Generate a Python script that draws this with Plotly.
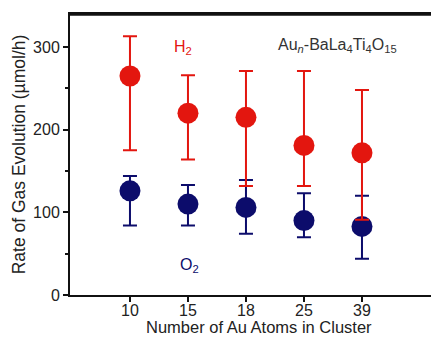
import plotly.graph_objects as go

categories = ["10", "15", "18", "25", "39"]
h2_values = [265, 220, 215, 181, 172]
h2_err_plus = [48, 46, 56, 90, 76]
h2_err_minus = [90, 56, 83, 49, 81]
o2_values = [126, 110, 106, 90, 83]
o2_err_plus = [18, 23, 33, 33, 37]
o2_err_minus = [42, 26, 32, 20, 39]
y_ticks = [0, 100, 200, 300]

x_pos = list(range(len(categories)))
RED = "#e3160f"
NAVY = "#0c0c6b"

fig = go.Figure()
fig.add_trace(go.Scatter(
    x=x_pos, y=o2_values, mode="markers",
    marker=dict(size=21, color=NAVY),
    error_y=dict(type="data", symmetric=False, array=o2_err_plus, arrayminus=o2_err_minus,
                 color=NAVY, thickness=2, width=7),
    showlegend=False))
fig.add_trace(go.Scatter(
    x=x_pos, y=h2_values, mode="markers",
    marker=dict(size=21, color=RED),
    error_y=dict(type="data", symmetric=False, array=h2_err_plus, arrayminus=h2_err_minus,
                 color=RED, thickness=2, width=7),
    showlegend=False))

font = "Liberation Sans, Arial, sans-serif"
fig.add_annotation(x=0.92, y=300, xref="x", yref="y", text="H<sub>2</sub>", showarrow=False,
                   font=dict(family=font, size=16, color=RED))
fig.add_annotation(x=1.02, y=36, xref="x", yref="y", text="O<sub>2</sub>", showarrow=False,
                   font=dict(family=font, size=16, color=NAVY))
fig.add_annotation(x=3.57, y=302, xref="x", yref="y",
                   text="Au<sub><i>n</i></sub>-BaLa<sub>4</sub>Ti<sub>4</sub>O<sub>15</sub>",
                   showarrow=False, font=dict(family=font, size=16, color="#333333"))
# x-axis title
fig.add_annotation(x=0.512, y=0, xref="paper", yref="paper", yanchor="top", yshift=-22,
                   borderpad=0, text="Number of Au Atoms in Cluster", showarrow=False,
                   font=dict(family=font, size=16.5, color="#222222"))

# top frame line
fig.add_shape(type="line", xref="paper", yref="paper", x0=0, x1=1, y0=0.997, y1=0.997,
              line=dict(color="#111111", width=2), layer="above")

fig.update_layout(
    width=431, height=330,
    margin=dict(l=62, r=0, t=6, b=43),
    plot_bgcolor="white", paper_bgcolor="white",
    font=dict(family=font, size=16, color="#222222"),
    xaxis=dict(range=[-1.034, 5.328], tickmode="array", tickvals=x_pos, ticktext=categories,
               showline=True, linecolor="#111111", linewidth=2, mirror=True,
               ticks="outside", ticklen=5, tickwidth=2, tickcolor="#111111",
               ticklabelstandoff=-5,
               showgrid=False, zeroline=False),
    yaxis=dict(range=[0, 340], tickmode="array", tickvals=y_ticks,
               showline=True, linecolor="#111111", linewidth=2,
               ticks="outside", ticklen=5, tickwidth=2, tickcolor="#111111",
               minor=dict(tickvals=[50, 150, 250], ticks="outside", ticklen=3,
                          tickwidth=2, tickcolor="#111111"),
               showgrid=False, zeroline=False,
               title=dict(text="Rate of Gas Evolution (µmol/h)", standoff=3,
                          font=dict(size=17.5))),
)

fig.write_html("out.html", config={"displayModeBar": False})
